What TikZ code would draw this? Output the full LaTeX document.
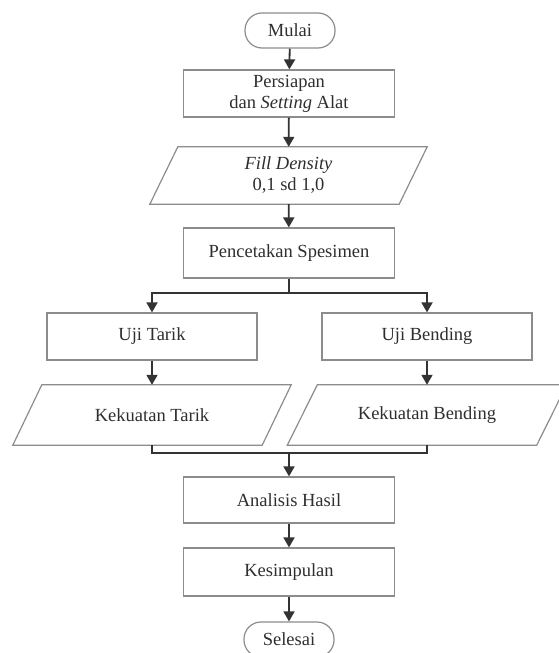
\documentclass[tikz,border=0pt]{standalone}
\usepackage{fontspec}
\setmainfont{Liberation Serif}
\usetikzlibrary{arrows.meta,calc}
\definecolor{boxline}{HTML}{8C8C8C}
\definecolor{arrline}{HTML}{333333}
\definecolor{txt}{HTML}{2E2E2E}
\begin{document}
\begin{tikzpicture}[x=1pt,y=-1pt,
  every node/.style={font=\fontsize{18.5}{21}\selectfont, text=txt, align=center, inner sep=0pt},
  procbox/.style={draw=boxline, line width=1.2pt, minimum width=211pt},
  termbox/.style={draw=boxline, line width=1.2pt, rounded corners=17pt, minimum width=90pt, minimum height=35pt},
  iobox/.style={minimum width=249pt},
  para/.style={draw=boxline, line width=1.2pt, line join=miter},
  flow/.style={draw=arrline, line width=1.8pt},
  arr/.style={flow, -{Triangle[length=10pt,width=11pt]}}
]
\useasboundingbox (0,0) rectangle (559,653);

\node[termbox] (mulai) at (290,30.5) {Mulai};
\node[procbox, minimum height=47pt] (persiapan) at (289,93.5) {Persiapan\\dan \textit{Setting} Alat};
\node[iobox, minimum height=57pt] (fd) at (288.5,175.5) {\textit{Fill Density}\\0,1 sd 1,0};
\draw[para] ([xshift=14pt]fd.north west) -- ([xshift=14pt]fd.north east) -- ([xshift=-14pt]fd.south east) -- ([xshift=-14pt]fd.south west) -- cycle;
\node[procbox, minimum height=50pt] (pen) at (289,253) {Pencetakan Spesimen};
\node[procbox, minimum width=210pt, minimum height=47pt] (ut) at (152,336.5) {Uji Tarik};
\node[procbox, minimum width=210pt, minimum height=47pt] (ub) at (427,336.5) {Uji Bending};
\node[iobox, minimum height=60pt] (kt) at (152,415) {Kekuatan Tarik};
\draw[para] ([xshift=14.5pt]kt.north west) -- ([xshift=14.5pt]kt.north east) -- ([xshift=-14.5pt]kt.south east) -- ([xshift=-14.5pt]kt.south west) -- cycle;
\node[iobox, minimum height=60pt] (kb) at (427,415) {Kekuatan Bending};
\draw[para] ([xshift=15pt]kb.north west) -- ([xshift=15pt]kb.north east) -- ([xshift=-15pt]kb.south east) -- ([xshift=-15pt]kb.south west) -- cycle;
\node[procbox, minimum height=46pt] (an) at (289,500) {Analisis Hasil};
\node[procbox, minimum height=48pt] (ks) at (289,572) {Kesimpulan};
\node[termbox] (sel) at (289,639.5) {Selesai};

\draw[arr] (mulai) -- (persiapan);
\draw[arr] (persiapan) -- (fd);
\draw[arr] (fd) -- (pen);
\coordinate (br) at (289,293);
\draw[flow] (pen.south) -- (br);
\draw[arr] (br) -| (ut.north);
\draw[arr] (br) -| (ub.north);
\draw[arr] (ut) -- (kt);
\draw[arr] (ub) -- (kb);
\coordinate (mg) at (289,453);
\draw[flow] (kt.south) |- (mg) -| (kb.south);
\draw[arr] (mg) -- (an.north);
\draw[arr] (an) -- (ks);
\draw[arr] (ks) -- (sel);
\end{tikzpicture}
\end{document}
